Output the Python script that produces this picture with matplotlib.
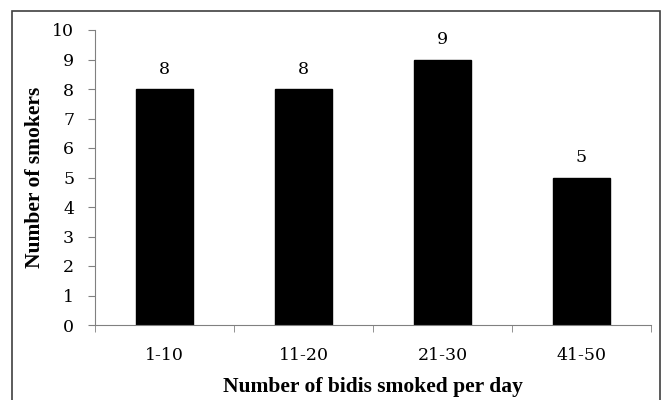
import matplotlib.pyplot as plt
from matplotlib.patches import Rectangle

# Data
categories = ["1-10", "11-20", "21-30", "41-50"]
smokers = [8, 8, 9, 5]

plt.rcParams["font.family"] = ["DejaVu Serif"]
label_font = {"family": "Liberation Serif", "size": 15.5, "weight": "bold"}

fig = plt.figure(figsize=(6.63, 4.0), dpi=100)
ax = fig.add_axes([95 / 663, 1 - 325 / 400, (651 - 95) / 663, (325 - 30) / 400])

# Outer frame around the whole chart (bottom edge runs past the image)
fig.patches.append(Rectangle((12 / 663, -0.01), (660 - 12) / 663, 1.01 - 11 / 400,
                             transform=fig.transFigure, fill=False,
                             edgecolor="#404040", linewidth=1.2))

x = range(len(categories))
bars = ax.bar(x, smokers, width=0.41, color="black", edgecolor="black")
for b, v in zip(bars, smokers):
    ax.text(b.get_x() + b.get_width() / 2, v + 0.38, str(v),
            ha="center", va="bottom", fontsize=12.5)

ax.set_xlim(-0.5, len(categories) - 0.5)
ax.set_ylim(0, 10)
ax.set_yticks(range(0, 11))
ax.tick_params(axis="y", labelsize=12.5, length=5, color="#808080", direction="out", pad=10)

ax.set_xticks(x)
ax.set_xticklabels(categories, fontsize=12.5)
ax.set_xticks([i - 0.5 for i in range(len(categories) + 1)], minor=True)
ax.tick_params(axis="x", which="major", length=0, pad=16)
ax.tick_params(axis="x", which="minor", length=5, color="#808080")

for s in ["top", "right"]:
    ax.spines[s].set_visible(False)
ax.spines["left"].set_color("#808080")
ax.spines["bottom"].set_color("#808080")

ax.set_xlabel("Number of bidis smoked per day", fontdict=label_font, labelpad=9)
ax.set_ylabel("Number of smokers", fontdict=label_font, labelpad=5)

fig.savefig("out.png", dpi=100)
